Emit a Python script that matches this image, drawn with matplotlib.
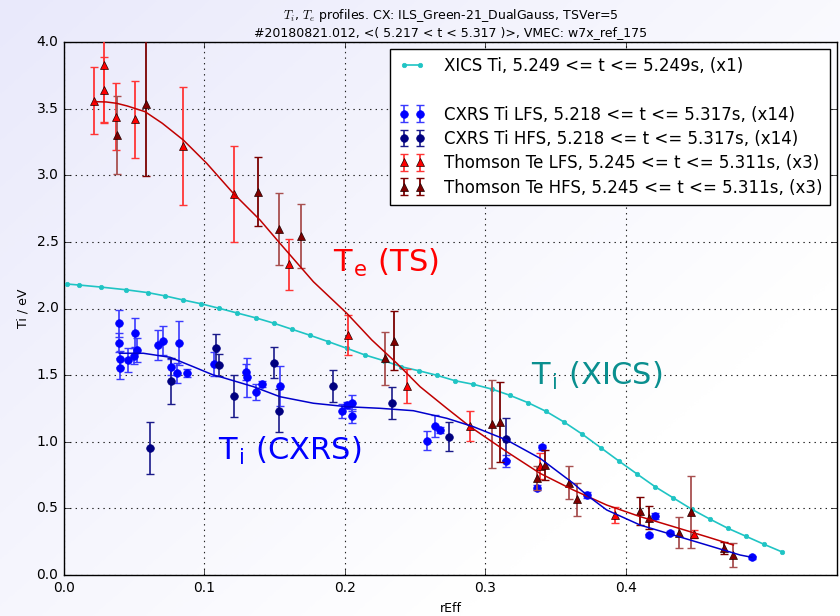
import numpy as np
import matplotlib
matplotlib.use("Agg")
import matplotlib.pyplot as plt
from matplotlib.lines import Line2D

# ---- XICS ion temperature profile ----
xics_r = [0.0019, 0.0109, 0.0261, 0.0439, 0.0598, 0.0722, 0.0848, 0.0978, 0.1106, 0.1234,
          0.1368, 0.1496, 0.1624, 0.1752, 0.1880, 0.2012, 0.2144, 0.2279, 0.2402, 0.2526,
          0.2655, 0.2785, 0.2915, 0.3051, 0.3174, 0.3305, 0.3433, 0.3561, 0.3692, 0.3823,
          0.3951, 0.4081, 0.4209, 0.4340, 0.4471, 0.4599, 0.4729, 0.4858, 0.4986, 0.5114]
xics_ti = [2.184, 2.176, 2.161, 2.141, 2.119, 2.094, 2.064, 2.035, 2.001, 1.966,
           1.929, 1.889, 1.844, 1.799, 1.752, 1.702, 1.651, 1.608, 1.563, 1.533,
           1.499, 1.458, 1.431, 1.394, 1.349, 1.293, 1.228, 1.148, 1.056, 0.955,
           0.856, 0.758, 0.663, 0.578, 0.493, 0.420, 0.350, 0.290, 0.230, 0.173]

# ---- CXRS ion temperature, low-field side ----
cx_lfs_r = [0.0394, 0.0394, 0.0399, 0.0401, 0.0458, 0.0499, 0.0508, 0.0518, 0.0672, 0.0708,
            0.0762, 0.0807, 0.0817, 0.0876, 0.1068, 0.1296, 0.1301, 0.1365, 0.1413, 0.1538,
            0.1978, 0.2013, 0.2054, 0.2054, 0.2588, 0.2640, 0.2678, 0.3148, 0.3367, 0.3407,
            0.3723, 0.4167, 0.4212, 0.4316, 0.4903]
cx_lfs_ti = [1.889, 1.743, 1.619, 1.551, 1.614, 1.643, 1.819, 1.689, 1.726, 1.758,
             1.563, 1.514, 1.743, 1.514, 1.583, 1.521, 1.483, 1.371, 1.433, 1.421,
             1.231, 1.276, 1.293, 1.193, 1.008, 1.118, 1.088, 0.858, 0.655, 0.958,
             0.600, 0.298, 0.443, 0.318, 0.133]
cx_lfs_err = [0.10, 0.07, 0.06, 0.08, 0.09, 0.06, 0.11, 0.09, 0.11, 0.11,
              0.06, 0.075, 0.165, 0.03, 0.09, 0.06, 0.145, 0.06, 0.02, 0.15,
              0.05, 0.02, 0.06, 0.05, 0.07, 0.085, 0.02, 0.045, 0.02, 0.02,
              0.02, 0.01, 0.02, 0.01, 0.01]

# ---- CXRS ion temperature, high-field side ----
cx_hfs_r = [0.0613, 0.0762, 0.1080, 0.1104, 0.1211, 0.1498, 0.1534, 0.1918, 0.2336, 0.2744, 0.3148]
cx_hfs_ti = [0.951, 1.456, 1.701, 1.576, 1.343, 1.593, 1.233, 1.421, 1.289, 1.038, 1.021]
cx_hfs_err = [0.195, 0.17, 0.11, 0.08, 0.155, 0.115, 0.16, 0.12, 0.12, 0.11, 0.155]

# ---- Thomson electron temperature, low-field side ----
ts_lfs_r = [0.0216, 0.0285, 0.0285, 0.0370, 0.0503, 0.0850, 0.1213, 0.1605, 0.2021, 0.2445,
            0.2892, 0.3390, 0.3925, 0.4487]
ts_lfs_te = [3.560, 3.827, 3.640, 3.440, 3.420, 3.220, 2.857, 2.332, 1.801, 1.418,
             1.118, 0.818, 0.450, 0.305]
ts_lfs_err = [0.25, 0.43, 0.25, 0.25, 0.29, 0.44, 0.36, 0.19, 0.15, 0.13,
              0.11, 0.10, 0.06, 0.03]

# ---- Thomson electron temperature, high-field side (time slice index per point) ----
ts_hfs_r = [0.0375, 0.0582, 0.1380, 0.1534, 0.1688, 0.2286, 0.2353, 0.3046, 0.3105, 0.3367,
            0.3428, 0.3597, 0.3654, 0.4103, 0.4165, 0.4383, 0.4466, 0.4701, 0.4767]
ts_hfs_te = [3.302, 3.532, 2.877, 2.594, 2.546, 1.626, 1.758, 1.131, 1.146, 0.730,
             0.826, 0.693, 0.570, 0.480, 0.430, 0.318, 0.470, 0.205, 0.150]
ts_hfs_err = [0.29, 0.54, 0.26, 0.27, 0.24, 0.20, 0.22, 0.33, 0.30, 0.09,
              0.115, 0.126, 0.124, 0.107, 0.085, 0.119, 0.27, 0.044, 0.09]
ts_hfs_slice = [1, 0, 0, 1, 1, 1, 0, 1, 0, 1, 0, 1, 1, 0, 0, 1, 1, 0, 1]

# ---- profile fits ----
te_fit_r = [0.0221, 0.0300, 0.0375, 0.0450, 0.0577, 0.0700, 0.0850, 0.1016, 0.1206, 0.1396,
            0.1538, 0.1776, 0.2014, 0.2192, 0.2370, 0.2536, 0.2726, 0.2892, 0.3153, 0.3390,
            0.3627, 0.3865, 0.4103, 0.4340, 0.4578, 0.4767]
te_fit_te = [3.552, 3.550, 3.540, 3.520, 3.477, 3.390, 3.264, 3.090, 2.864, 2.664,
             2.489, 2.201, 1.964, 1.764, 1.589, 1.413, 1.251, 1.113, 0.925, 0.763,
             0.638, 0.525, 0.438, 0.363, 0.287, 0.225]
ti_fit_r = [0.0394, 0.0565, 0.0755, 0.0921, 0.1063, 0.1111, 0.1350, 0.1538, 0.1776, 0.2014,
            0.2251, 0.2488, 0.2726, 0.2915, 0.3153, 0.3390, 0.3627, 0.3723, 0.3865, 0.4103,
            0.4340, 0.4578, 0.4815, 0.4898]
ti_fit_ti = [1.664, 1.664, 1.634, 1.563, 1.501, 1.488, 1.413, 1.338, 1.289, 1.263,
             1.251, 1.233, 1.176, 1.113, 1.013, 0.876, 0.688, 0.600, 0.488, 0.375,
             0.300, 0.225, 0.150, 0.133]

legend_labels = [
    "XICS Ti, 5.249 <= t <= 5.249s, (x1)",
    "",
    "CXRS Ti LFS, 5.218 <= t <= 5.317s, (x14)",
    "CXRS Ti HFS, 5.218 <= t <= 5.317s, (x14)",
    "Thomson Te LFS, 5.245 <= t <= 5.311s, (x3)",
    "Thomson Te HFS, 5.245 <= t <= 5.311s, (x3)",
]
title_lines = [
    r"$T_i$, $T_e$ profiles. CX: ILS_Green-21_DualGauss, TSVer=5",
    "#20180821.012, <( 5.217 < t < 5.317 )>, VMEC: w7x_ref_175",
]

plt.style.use("classic")
plt.rcParams["font.family"] = ["DejaVu Sans"]
plt.rcParams["mathtext.fontset"] = "cm"

fig = plt.figure(figsize=(8.4, 6.16), dpi=100, facecolor="white")

# soft diagonal lavender-to-white backdrop
bg = fig.add_axes([0, 0, 1, 1], zorder=-10)
bg.axis("off")
yy, xx = np.mgrid[0:1:300j, 0:1:300j]
t = np.clip((0.55 * xx + 0.45 * yy) / 0.75, 0, 1)
top = np.array([233, 233, 251]) / 255.0
img = top[None, None, :] * (1 - t[..., None]) + 1.0 * t[..., None]
bg.imshow(img, extent=[0, 1, 0, 1], aspect="auto", origin="upper")

ax = fig.add_axes([64 / 840, 41 / 616, 773 / 840, 533 / 616])
ax.patch.set_alpha(0)

# XICS profile
h_xics, = ax.plot(xics_r, xics_ti, "-o", color="#1fc4c4", lw=1.2, ms=3.2,
                  mec="#1fc4c4", zorder=3)

# CXRS points
cap = 3
h_cxl = ax.errorbar(cx_lfs_r, cx_lfs_ti, yerr=cx_lfs_err, fmt="o", color="#0000ff",
                    mec="#0000ff", ms=5.5, ecolor="#3a3aff", elinewidth=1.2, capsize=cap,
                    capthick=1, zorder=4)
h_cxh = ax.errorbar(cx_hfs_r, cx_hfs_ti, yerr=cx_hfs_err, fmt="o", color="#000080",
                    mec="#000080", ms=5.5, ecolor="#1a1a8a", elinewidth=1.2, capsize=cap,
                    capthick=1, zorder=4)

# Thomson points
h_tsl = ax.errorbar(ts_lfs_r, ts_lfs_te, yerr=ts_lfs_err, fmt="^", mfc="#ff0000",
                    mec="#200000", ms=6, ecolor="#ff3535", elinewidth=1.3, capsize=cap,
                    capthick=1, zorder=5)
slice_colors = {0: "#7a0000", 1: "#a85050"}
r_arr = np.array(ts_hfs_r)
te_arr = np.array(ts_hfs_te)
e_arr = np.array(ts_hfs_err)
s_arr = np.array(ts_hfs_slice)
h_tsh = None
for s, col in slice_colors.items():
    m = s_arr == s
    h = ax.errorbar(r_arr[m], te_arr[m], yerr=e_arr[m], fmt="^", mfc="#800000",
                    mec="#200000", ms=6, ecolor=col, elinewidth=1.3, capsize=cap,
                    capthick=1, zorder=5)
    if s == 0:
        h_tsh = h

# fitted profiles
ax.plot(te_fit_r, te_fit_te, "-", color="#c00000", lw=1.1, zorder=6)
ax.plot(ti_fit_r, ti_fit_ti, "-", color="#0000cc", lw=1.1, zorder=6)

# curve annotations
ax.text(0.1916, 2.274, r"T$_\mathregular{e}$ (TS)", color="#ff0000", fontsize=22, va="baseline")
ax.text(0.3326, 1.426, r"T$_\mathregular{i}$ (XICS)", color="#0a8f8f", fontsize=22, va="baseline")
ax.text(0.1097, 0.863, r"T$_\mathregular{i}$ (CXRS)", color="#0000ff", fontsize=22, va="baseline")

ax.set_xlim(0, 0.5505)
ax.set_ylim(0, 4.0)
ax.set_xticks([0.0, 0.1, 0.2, 0.3, 0.4])
ax.set_yticks(np.arange(0, 4.01, 0.5))
ax.xaxis.set_major_formatter(matplotlib.ticker.FormatStrFormatter("%.1f"))
ax.yaxis.set_major_formatter(matplotlib.ticker.FormatStrFormatter("%.1f"))
ax.tick_params(labelsize=10, direction="in", top=True, right=True)
ax.grid(True, linestyle=":", color="#222222", lw=0.8)
ax.set_axisbelow(True)
ax.set_xlabel("rEff", fontsize=9)
ax.set_ylabel("Ti / eV", fontsize=9)
ax.set_title("\n".join(title_lines), fontsize=9, pad=4)

blank = Line2D([], [], linestyle="none", marker="none")
leg = ax.legend([h_xics, blank, h_cxl, h_cxh, h_tsl, h_tsh], legend_labels,
                loc="upper right", fontsize=12, numpoints=2, fancybox=False,
                frameon=True, borderaxespad=0.4, handlelength=1.6,
                handletextpad=1.1, labelspacing=0.38, borderpad=0.5)
leg.get_frame().set_edgecolor("black")
leg.get_frame().set_facecolor("white")
leg.set_zorder(10)

fig.savefig("out.png", dpi=100, facecolor=fig.get_facecolor())
